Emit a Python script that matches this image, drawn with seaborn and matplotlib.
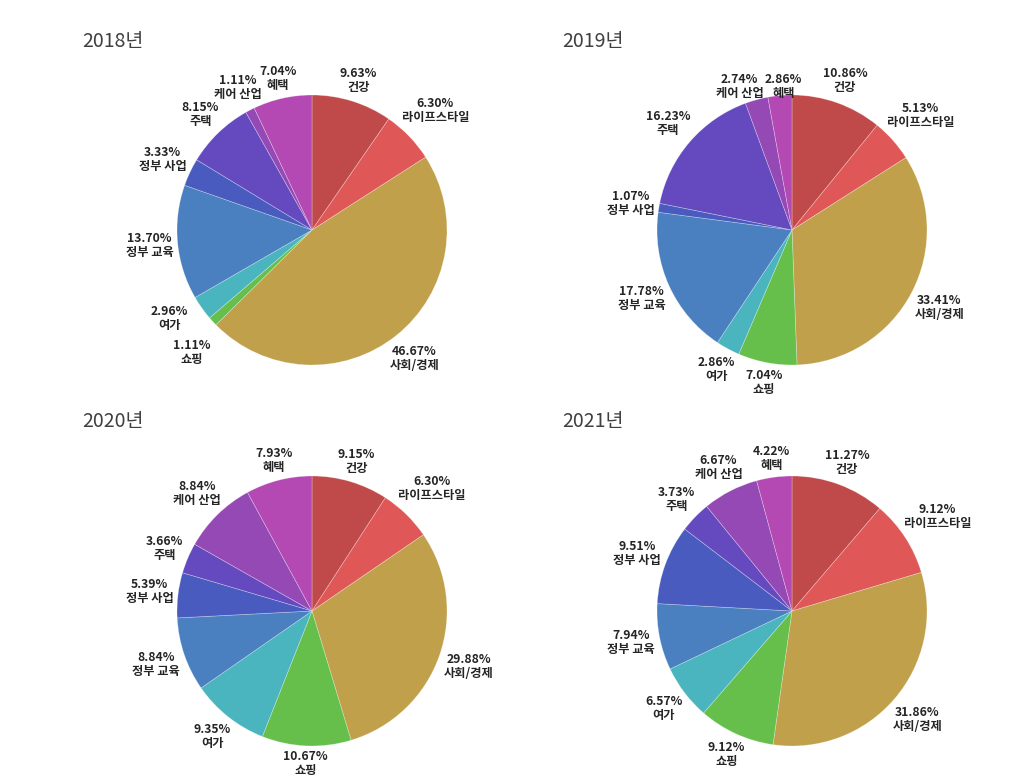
import matplotlib
matplotlib.use("Agg")
import numpy as np
import matplotlib.pyplot as plt
import seaborn as sns

# 카테고리 (시계 방향, 12시부터)
categories = ['건강', '라이프스타일', '사회/경제', '쇼핑', '여가',
              '정부 교육', '정부 사업', '주택', '케어 산업', '혜택']

# 연도별 비율 (%)
years = ['2018년', '2019년', '2020년', '2021년']
share_2018 = [9.63, 6.30, 46.67, 1.11, 2.96, 13.70, 3.33, 8.15, 1.11, 7.04]
share_2019 = [10.86, 5.13, 33.41, 7.04, 2.86, 17.78, 1.07, 16.23, 2.74, 2.86]
share_2020 = [9.15, 6.30, 29.88, 10.67, 9.35, 8.84, 5.39, 3.66, 8.84, 7.93]
share_2021 = [11.27, 9.12, 31.86, 9.12, 6.57, 7.94, 9.51, 3.73, 6.67, 4.22]

colors = sns.color_palette(['#c04a4a', '#e05757', '#c0a04a', '#66bf4a', '#4ab4bf',
                            '#4a80bf', '#4a5bbf', '#654abf', '#9449b4', '#b449b4'])

sns.set_theme(style='white')
plt.rcParams['font.family'] = ['Noto Sans CJK KR', 'DejaVu Sans']

fig = plt.figure(figsize=(10.19, 7.82), dpi=100)
fig.patch.set_facecolor('white')
renderer = fig.canvas.get_renderer()

W, H = 1019, 782
R = 135    # 파이 반지름(px)
GAP = 3    # 원과 라벨 박스 사이 여백(px)
centers = [(312, 230), (792, 230), (312, 611), (792, 611)]
title_pos = [(82, 42), (562, 42), (82, 421), (562, 421)]
all_shares = [share_2018, share_2019, share_2020, share_2021]

# 겹치는 라벨 수동 보정 (px, 오른쪽/아래 +)
nudge = {
    ('2018년', '여가'): (-11, -5),
    ('2018년', '쇼핑'): (-2, 13),
    ('2019년', '케어 산업'): (-11, 8),
    ('2019년', '혜택'): (5, 9),
}

for year, shares, (cx, cy), (tx, ty) in zip(years, all_shares, centers, title_pos):
    half = 1.25 * R
    ax = fig.add_axes([(cx - half) / W, (H - cy - half) / H, 2 * half / W, 2 * half / H])
    wedges, _ = ax.pie(shares, colors=colors, startangle=90, counterclock=False,
                       wedgeprops={'linewidth': 0.5, 'edgecolor': (1, 1, 1, 0.35)})
    ax.set_xlim(-1.25, 1.25)
    ax.set_ylim(-1.25, 1.25)
    ax.set_aspect('equal')
    ax.axis('off')

    for w, v, cat in zip(wedges, shares, categories):
        theta = np.deg2rad((w.theta1 + w.theta2) / 2)
        t = ax.text(0, 0, f'{v:.2f}%\n{cat}', ha='center', va='center',
                    fontsize=8.8, fontweight='bold', color='#252525',
                    multialignment='center', linespacing=1.1)
        bb = t.get_window_extent(renderer)
        ext = bb.width / 2 * abs(np.cos(theta)) + bb.height / 2 * abs(np.sin(theta))
        d = (R + GAP + ext) / R
        dx, dy = nudge.get((year, cat), (0, 0))
        t.set_position((d * np.cos(theta) + dx / R, d * np.sin(theta) - dy / R))

    fig.text(tx / W, 1 - ty / H, year, fontsize=14, color='#404040',
             ha='left', va='center')

fig.savefig('out.png', dpi=100, facecolor='white')
